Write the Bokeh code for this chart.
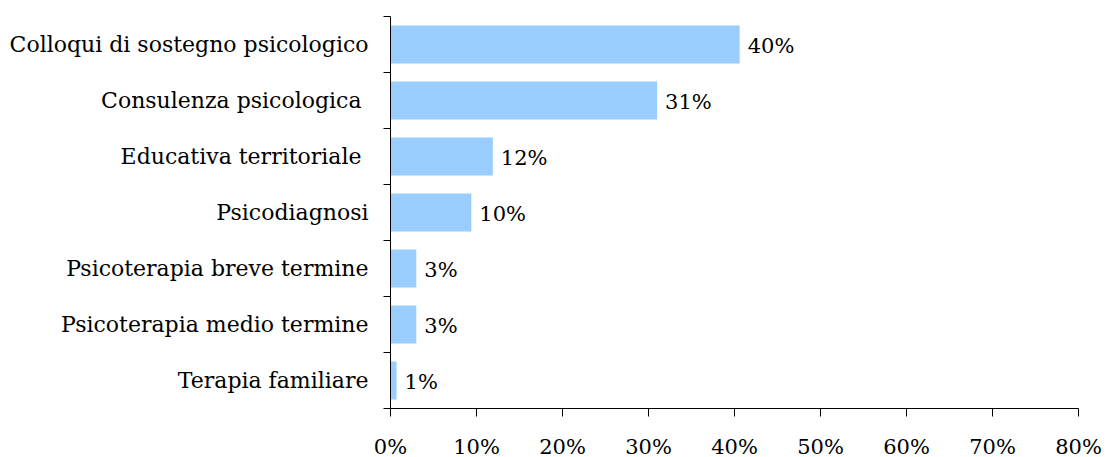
from bokeh.plotting import figure
from bokeh.models import Range1d, FixedTicker, PrintfTickFormatter, CustomJSTickFormatter, ColumnDataSource
from bokeh.core.properties import value
from bokeh.embed import file_html
from bokeh.resources import INLINE

categories = ["Colloqui di sostegno psicologico", "Consulenza psicologica ", "Educativa territoriale ",
              "Psicodiagnosi", "Psicoterapia breve termine", "Psicoterapia medio termine", "Terapia familiare"]
values = [40.6, 31.0, 11.9, 9.4, 3.0, 3.0, 0.7]
value_labels = ["40%", "31%", "12%", "10%", "3%", "3%", "1%"]
x_ticks = [0, 10, 20, 30, 40, 50, 60, 70, 80]

FONT = "DejaVu Serif"
FS_CAT = "22px"
FS = "21px"

n = len(categories)
centers = [i + 0.5 for i in range(n)]
bounds = list(range(n + 1))

src = ColumnDataSource(dict(y=centers, v=values, lab=value_labels))

p = figure(width=1105, height=457, output_backend="svg", toolbar_location=None,
           x_range=Range1d(0, 80), y_range=Range1d(n, 0),
           frame_width=688, frame_height=392,
           min_border_left=390, min_border_top=16, min_border_right=27, min_border_bottom=49)
p.outline_line_color = None
p.xgrid.visible = False
p.ygrid.visible = False
p.background_fill_color = "white"
p.border_fill_color = "white"

p.hbar(y="y", right="v", left=0, height=0.68, source=src, fill_color="#99CCFF", line_color=None)
p.text(x="v", y="y", text="lab", source=src, x_offset=8, y_offset=1, text_baseline="middle", text_align="left",
       text_font=value(FONT), text_font_size=FS, text_color="black")

xa = p.xaxis[0]
xa.ticker = FixedTicker(ticks=x_ticks)
xa.formatter = PrintfTickFormatter(format="%d%%")
xa.major_tick_in = 0
xa.major_tick_out = 8
xa.minor_tick_in = 0
xa.minor_tick_out = 0
xa.major_label_standoff = 18
xa.major_label_text_font = FONT
xa.major_label_text_font_size = FS
xa.major_label_text_color = "black"
xa.axis_line_color = "black"
xa.major_tick_line_color = "black"

ya = p.yaxis[0]
ya.ticker = FixedTicker(ticks=centers, minor_ticks=bounds)
ya.formatter = CustomJSTickFormatter(args=dict(labels=categories), code="return labels[Math.round(tick - 0.5)];")
ya.major_tick_in = 0
ya.major_tick_out = 0
ya.minor_tick_in = 0
ya.minor_tick_out = 7
ya.minor_tick_line_color = "black"
ya.major_label_standoff = 15
ya.major_label_text_font = FONT
ya.major_label_text_font_size = FS_CAT
ya.major_label_text_color = "black"
ya.axis_line_color = "black"

open("out.html", "w").write(file_html(p, INLINE))
